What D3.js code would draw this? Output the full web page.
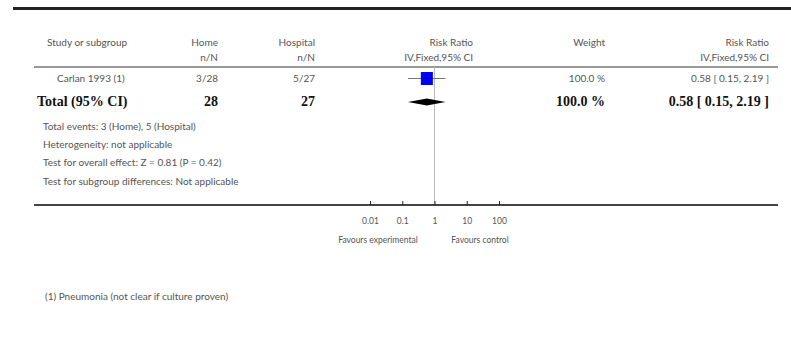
<!DOCTYPE html>
<html><head><meta charset="utf-8">
<script src="https://cdn.jsdelivr.net/npm/d3@7"></script>
<style>
body{margin:0;background:#fff;}
svg text{font-family:Lato,"Open Sans",sans-serif;}
svg text.bold{font-family:"Liberation Serif","Times New Roman",serif;font-weight:bold;}
</style></head>
<body><svg id="c" width="791" height="339"></svg>
<script>
const headers1 = ["Study or subgroup","Home","Hospital","Risk Ratio","Weight","Risk Ratio"];
const headers2 = ["","n/N","n/N","IV,Fixed,95% CI","","IV,Fixed,95% CI"];
const studies = ["Carlan 1993 (1)"];
const homeNN = ["3/28"];
const hospNN = ["5/27"];
const rr = [0.58];
const lo = [0.15];
const hi = [2.19];
const weights = ["100.0 %"];
const rrText = ["0.58 [ 0.15, 2.19 ]"];
const total = {label:"Total (95% CI)", home:"28", hosp:"27", rr:0.58, lo:0.15, hi:2.19, weight:"100.0 %", text:"0.58 [ 0.15, 2.19 ]"};
const notes = ["Total events: 3 (Home), 5 (Hospital)","Heterogeneity: not applicable","Test for overall effect: Z = 0.81 (P = 0.42)","Test for subgroup differences: Not applicable"];
const tickVals = [0.01,0.1,1,10,100];
const tickLabels = ["0.01","0.1","1","10","100"];
const favours = ["Favours experimental","Favours control"];
const footnote = "(1) Pneumonia (not clear if culture proven)";

const svg = d3.select("#c");
const x = d3.scaleLog().domain([0.01,100]).range([370,499]);
const grey = "#555";
const fs = 10;

// top rule
svg.append("rect").attr("x",13).attr("y",7).attr("width",778).attr("height",3).attr("fill","#222");

// headers
const colX = [47,218,315,473,605,769];
const anchors = ["start","end","end","end","end","end"];
headers1.forEach((h,i)=>svg.append("text").attr("x",colX[i]).attr("y",46).attr("text-anchor",anchors[i]).attr("font-size",fs).attr("fill",grey).text(h));
headers2.forEach((h,i)=>{ if(h) svg.append("text").attr("x",colX[i]).attr("y",61).attr("text-anchor",anchors[i]).attr("font-size",fs).attr("fill",grey).text(h);});
const hdrY = 67;
svg.append("line").attr("x1",34).attr("x2",778).attr("y1",hdrY).attr("y2",hdrY).attr("stroke","#333").attr("stroke-width",1.2);

const yAxis = 205;
// null line
svg.append("line").attr("x1",x(1)).attr("x2",x(1)).attr("y1",hdrY).attr("y2",yAxis).attr("stroke","#bbb").attr("stroke-width",1);

// study rows
const rowY = [78.5];
studies.forEach((s,i)=>{
  const y = rowY[i];
  svg.append("text").attr("x",57).attr("y",y+3.5).attr("font-size",fs).attr("fill",grey).text(s);
  svg.append("text").attr("x",colX[1]).attr("y",y+3.5).attr("text-anchor","end").attr("font-size",fs).attr("fill",grey).text(homeNN[i]);
  svg.append("text").attr("x",colX[2]).attr("y",y+3.5).attr("text-anchor","end").attr("font-size",fs).attr("fill",grey).text(hospNN[i]);
  svg.append("text").attr("x",colX[4]).attr("y",y+3.5).attr("text-anchor","end").attr("font-size",fs).attr("fill",grey).text(weights[i]);
  svg.append("text").attr("x",colX[5]).attr("y",y+3.5).attr("text-anchor","end").attr("font-size",fs).attr("fill",grey).text(rrText[i]);
  svg.append("line").attr("x1",x(lo[i])).attr("x2",x(hi[i])).attr("y1",y).attr("y2",y).attr("stroke","#777").attr("stroke-width",1);
  svg.append("rect").attr("x",x(rr[i])-6).attr("y",y-6.5).attr("width",12).attr("height",13).attr("fill","#0000ff");
  svg.append("line").attr("x1",x(rr[i])-1).attr("x2",x(rr[i])+1).attr("y1",y).attr("y2",y).attr("stroke","#000").attr("stroke-width",1);
});

// total row
const ty = 106;
const bold = (xx,anchor,t)=>svg.append("text").attr("class","bold").attr("x",xx).attr("y",ty).attr("text-anchor",anchor).attr("font-size",14).attr("fill","#111").text(t);
bold(37,"start",total.label);
bold(colX[1],"end",total.home);
bold(colX[2],"end",total.hosp);
bold(colX[4],"end",total.weight);
bold(colX[5],"end",total.text);
const dy = 102;
svg.append("path").attr("d",`M${x(total.lo)},${dy} L${x(total.rr)},${dy-3.5} L${x(total.hi)},${dy} L${x(total.rr)},${dy+3.5} Z`).attr("fill","#000");

// notes
const noteY = [129.5,147.5,165.5,185];
notes.forEach((n,i)=>svg.append("text").attr("x",43).attr("y",noteY[i]).attr("font-size",fs).attr("fill",grey).text(n));

// axis
svg.append("line").attr("x1",34).attr("x2",778).attr("y1",yAxis).attr("y2",yAxis).attr("stroke","#444").attr("stroke-width",2);
const axis = d3.axisBottom(x).tickValues(tickVals).tickFormat((d,i)=>tickLabels[i]).tickSize(0).tickPadding(13);
const g = svg.append("g").attr("transform",`translate(0,${yAxis})`).call(axis);
g.select(".domain").remove();
g.selectAll("text").attr("font-size",8.5).attr("fill",grey).style("font-family","Lato,sans-serif");
g.selectAll(".tick").append("line").attr("y1",-4).attr("y2",0).attr("stroke","#222").attr("stroke-width",1);
svg.append("text").attr("x",378).attr("y",243).attr("text-anchor","middle").attr("font-size",8.5).attr("fill",grey).text(favours[0]);
svg.append("text").attr("x",480).attr("y",243).attr("text-anchor","middle").attr("font-size",8.5).attr("fill",grey).text(favours[1]);

// footnote
svg.append("text").attr("x",45).attr("y",299.5).attr("font-size",fs).attr("fill",grey).text(footnote);
</script></body></html>
